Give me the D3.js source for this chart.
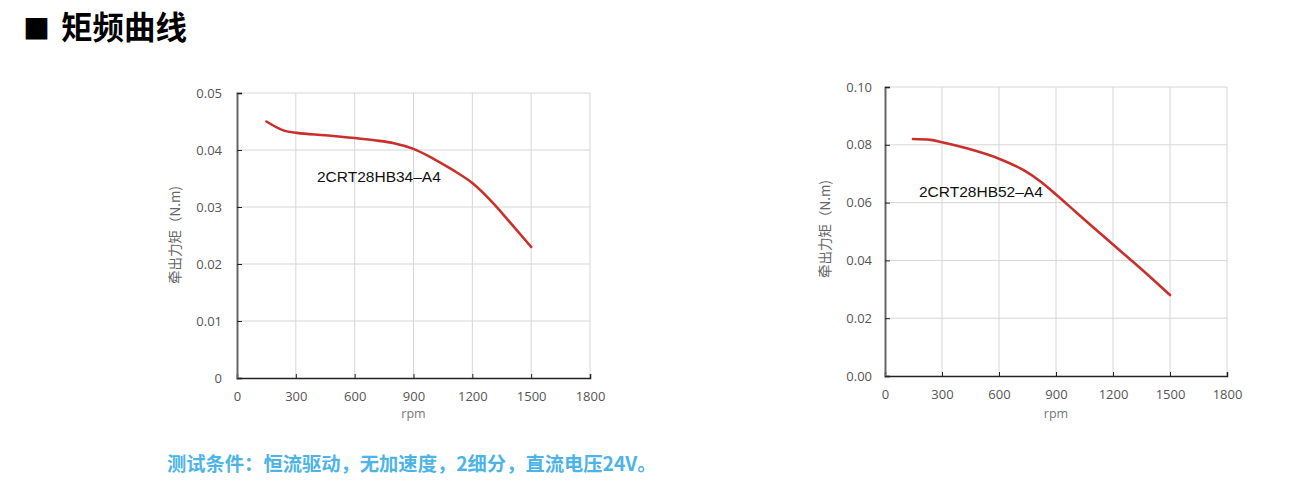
<!DOCTYPE html>
<html>
<head>
<meta charset="utf-8">
<script src="https://cdn.jsdelivr.net/npm/d3@7"></script>
<style>
  body { margin: 0; background: #fff; }
  svg { display: block; }
</style>
</head>
<body>
<script>
// titles / notes
var pageTitle = "矩频曲线";
var noteText = "测试条件：恒流驱动，无加速度，2细分，直流电压24V。";
var yTitle = "牵出力矩（N.m)";
var xTitle = "rpm";

// x axis (shared)
var rpmTicks = [0, 300, 600, 900, 1200, 1500, 1800];

// 2CRT28HB34-A4
var hb34Name = "2CRT28HB34-A4";
var hb34Rpm = [150, 240, 305, 450, 600, 700, 800, 900, 1000, 1100, 1200, 1300, 1400, 1500];
var hb34Torque = [0.0450, 0.0434, 0.0430, 0.0426, 0.0421, 0.0417, 0.0412, 0.0402, 0.0385, 0.0365, 0.0342, 0.0309, 0.0270, 0.0230];
var hb34YTicks = [0, 0.01, 0.02, 0.03, 0.04, 0.05];
var hb34YLabels = ["0", "0.01", "0.02", "0.03", "0.04", "0.05"];

// 2CRT28HB52-A4
var hb52Name = "2CRT28HB52-A4";
var hb52Rpm = [147, 240, 300, 430, 600, 730, 820, 900, 1000, 1100, 1200, 1300, 1400, 1500];
var hb52Torque = [0.0820, 0.0817, 0.0809, 0.0788, 0.0752, 0.0712, 0.0672, 0.0628, 0.0570, 0.0512, 0.0455, 0.0398, 0.0340, 0.0280];
var hb52YTicks = [0, 0.02, 0.04, 0.06, 0.08, 0.10];
var hb52YLabels = ["0.00", "0.02", "0.04", "0.06", "0.08", "0.10"];

var svg = d3.select("body")
    .append("svg")
    .attr("width", 1313)
    .attr("height", 493);

// page title
svg.append("text")
    .attr("x", 23)
    .attr("y", 39)
    .style("font-family", "'Noto Sans CJK SC'")
    .style("font-size", "27px")
    .style("fill", "#000")
    .text("■");
svg.append("text")
    .attr("x", 61)
    .attr("y", 39)
    .style("font-family", "'Noto Sans CJK SC'")
    .style("font-weight", 700)
    .style("font-size", "31.5px")
    .style("fill", "#000")
    .text(pageTitle);

function drawChart(opt) {
    var x = d3.scaleLinear().domain([0, 1800]).range([opt.left, opt.right]);
    var y = d3.scaleLinear().domain([0, opt.yMax]).range([opt.bottom, opt.top]);
    var g = svg.append("g");

    // grid
    g.append("g").selectAll("line")
        .data(rpmTicks.slice(1))
        .enter().append("line")
        .attr("x1", function (d) { return x(d); })
        .attr("x2", function (d) { return x(d); })
        .attr("y1", opt.top)
        .attr("y2", opt.bottom)
        .style("stroke", "#d6d6d6")
        .style("stroke-width", 1);
    g.append("g").selectAll("line")
        .data(opt.yTicks.slice(1))
        .enter().append("line")
        .attr("x1", opt.left)
        .attr("x2", opt.right)
        .attr("y1", function (d) { return y(d); })
        .attr("y2", function (d) { return y(d); })
        .style("stroke", "#d6d6d6")
        .style("stroke-width", 1);

    // x axis
    var xAxis = g.append("g")
        .attr("transform", "translate(0," + opt.bottom + ")")
        .call(d3.axisBottom(x).tickValues(rpmTicks).tickSize(-4).tickPadding(14).tickFormat(d3.format("d")));
    xAxis.select(".domain").style("stroke", "#222").style("stroke-width", 1.5);
    xAxis.selectAll(".tick line").style("stroke", "#222");
    xAxis.selectAll("text")
        .style("font-family", "'Open Sans'")
        .style("font-size", "13px")
        .style("fill", "#555");

    // y axis
    var yAxis = g.append("g")
        .attr("transform", "translate(" + opt.left + ",0)")
        .call(d3.axisLeft(y).tickValues(opt.yTicks).tickSize(-5).tickPadding(opt.yPad)
            .tickFormat(function (d, i) { return opt.yLabels[i]; }));
    yAxis.select(".domain").style("stroke", "#666").style("stroke-width", 2);
    yAxis.selectAll(".tick line").style("stroke", "#222");
    yAxis.selectAll("text")
        .style("font-family", "'Open Sans'")
        .style("font-size", "13px")
        .style("fill", "#555");

    // axis titles
    g.append("text")
        .attr("transform", "translate(" + opt.yTitleX + "," + opt.yTitleY + ") rotate(-90)")
        .attr("text-anchor", "middle")
        .attr("dy", "0.35em")
        .style("font-family", "'Noto Sans CJK SC'")
        .style("font-size", "13.5px")
        .style("fill", "#666")
        .text(yTitle);
    g.append("text")
        .attr("x", (opt.left + opt.right) / 2)
        .attr("y", 418)
        .attr("text-anchor", "middle")
        .style("font-family", "'Open Sans'")
        .style("font-size", "12.5px")
        .style("fill", "#777")
        .text(xTitle);

    // curve
    var line = d3.line()
        .x(function (d) { return x(d[0]); })
        .y(function (d) { return y(d[1]); })
        .curve(d3.curveMonotoneX);
    g.append("path")
        .datum(d3.zip(opt.rpm, opt.torque))
        .attr("d", line)
        .style("fill", "none")
        .style("stroke", "#c9302c")
        .style("stroke-width", 2.6)
        .style("stroke-linecap", "round");

    // series label
    g.append("text")
        .attr("x", x(opt.labelRpm))
        .attr("y", y(opt.labelTorque))
        .attr("dy", "0.35em")
        .style("font-family", "'Liberation Sans'")
        .style("font-size", "15.5px")
        .style("fill", "#111")
        .text(opt.name.replace("-", "\u2013"));
}

drawChart({
    left: 237, right: 590, top: 93, bottom: 378,
    yMax: 0.05, yTicks: hb34YTicks, yLabels: hb34YLabels, yPad: 15,
    rpm: hb34Rpm, torque: hb34Torque, name: hb34Name,
    labelRpm: 408, labelTorque: 0.0353,
    yTitleX: 175, yTitleY: 235
});

drawChart({
    left: 885, right: 1227, top: 87, bottom: 376,
    yMax: 0.10, yTicks: hb52YTicks, yLabels: hb52YLabels, yPad: 13,
    rpm: hb52Rpm, torque: hb52Torque, name: hb52Name,
    labelRpm: 179, labelTorque: 0.0637,
    yTitleX: 825, yTitleY: 229
});

// test conditions note
svg.append("text")
    .attr("x", 167)
    .attr("y", 471)
    .style("font-family", "'Noto Sans CJK SC'")
    .style("font-weight", 700)
    .style("font-size", "19.3px")
    .style("fill", "#4cb4e7")
    .text(noteText);
</script>
</body>
</html>
